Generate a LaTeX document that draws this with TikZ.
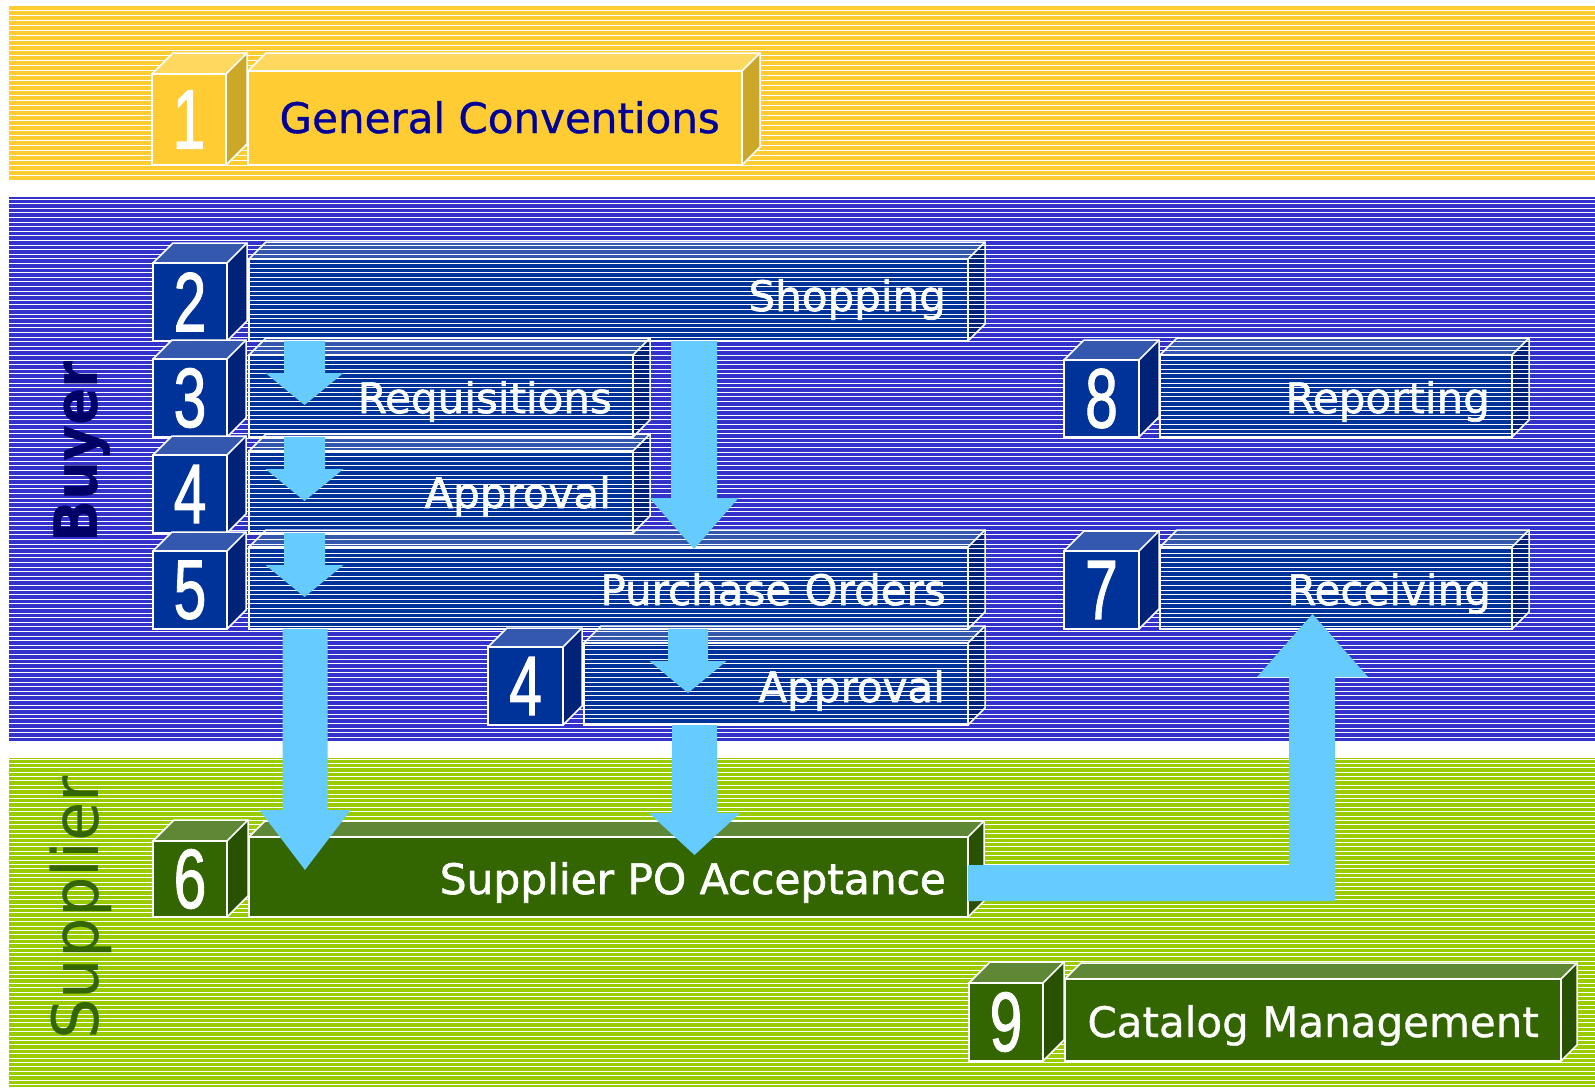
\documentclass[tikz,border=0pt]{standalone}
\usepackage{fontspec}
\setmainfont{DejaVu Sans}
\newfontfamily\digitfont[FakeBold=1.5]{Liberation Sans}
\newfontfamily\lblfont[FakeBold=1.5]{DejaVu Sans}
\newfontfamily\lblfontb[FakeBold=0.8]{DejaVu Sans}
\usepackage{graphicx}
\definecolor{ybg}{HTML}{FFCC33}
\definecolor{yfront}{HTML}{FFCC33}
\definecolor{ytop}{HTML}{FFD95E}
\definecolor{yside}{HTML}{CCA829}
\definecolor{navy}{HTML}{000099}
\definecolor{bbg}{HTML}{3333CC}
\definecolor{bfront}{HTML}{003399}
\definecolor{btop}{HTML}{3358AD}
\definecolor{bside}{HTML}{002277}
\definecolor{buyercol}{HTML}{000066}
\definecolor{gbg}{HTML}{99CC00}
\definecolor{gfront}{HTML}{336600}
\definecolor{gtop}{HTML}{5E8736}
\definecolor{gside}{HTML}{295200}
\definecolor{arr}{HTML}{66CCFF}
% faces: x1 y1 x2 y2 d front top side
\newcommand\stripfaces[8]{%
  \fill[#7] (#1,#2) -- (#1+#5,#2-#5) -- (#3+#5,#2-#5) -- (#3,#2) -- cycle;
  \fill[#8] (#3,#2) -- (#3+#5,#2-#5) -- (#3+#5,#4-#5) -- (#3,#4) -- cycle;
  \fill[#6] (#1,#2) rectangle (#3,#4);}
% edges + named front: name x1 y1 x2 y2 d
\newcommand\openfront[6]{%
  \draw[edge] (#2,#3) -- (#2+#6,#3-#6) -- (#4+#6,#3-#6) -- (#4+#6,#5-#6) -- (#4,#5);
  \draw[edge] (#4,#3) -- (#4+#6,#3-#6);
  \node[edge,inner sep=0,outer sep=0,minimum width={#4-#2},minimum height={#5-#3},anchor=north west] (#1) at (#2,#3) {};}
\newcommand\solidbox[9]{%
  \stripfaces{#2}{#3}{#4}{#5}{#6}{#7}{#8}{#9}%
  \openfront{#1}{#2}{#3}{#4}{#5}{#6}}
% down block arrow: cx, start anchor, head base y, tip y, half shaft, half head
\newcommand\dnarrow[6]{%
  \fill[arr] (#1-#5,0 |- #2) -- (#1-#5,#3) -- (#1-#6,#3) -- (#1,#4) -- (#1+#6,#3) -- (#1+#5,#3) -- (#1+#5,0 |- #2) -- cycle;}
% pixel-aligned stripes: first row, period, count
\newcommand\stripes[3]{%
  \foreach \k in {0,...,#3} {%
    \pgfmathsetmacro\yy{#1+floor(\k*#2)+0.5}%
    \draw[stripe] (9,\yy) -- (1595,\yy);}}
\begin{document}
\begin{tikzpicture}[x=1pt,y=-1pt,
  edge/.style={draw=white,line width=1.5,line join=miter},
  lbl/.style={text=white,inner sep=0,font=\lblfont\fontsize{42}{42}\selectfont},
  num/.style={text=white,inner sep=0,font=\digitfont\fontsize{84}{84}\selectfont},
  stripe/.style={white,line width=1}]
\useasboundingbox (0,0) rectangle (1595,1087);
\fill[white] (0,0) rectangle (1595,1087);
% bands
\fill[ybg] (9,5) rectangle (1595,180);
\fill[bbg] (9,197) rectangle (1595,741);
\fill[gbg] (9,758) rectangle (1595,1087);
% translucent blue long boxes (faces)
\stripfaces{249}{259}{968}{341}{17}{bfront}{btop}{bside}
\stripfaces{249}{355}{633}{437}{17}{bfront}{btop}{bside}
\stripfaces{249}{451}{633}{533}{17}{bfront}{btop}{bside}
\stripfaces{249}{547}{968}{629}{17}{bfront}{btop}{bside}
\stripfaces{584}{643}{968}{725}{17}{bfront}{btop}{bside}
\stripfaces{1160}{355}{1512}{437}{17}{bfront}{btop}{bside}
\stripfaces{1160}{547}{1512}{629}{17}{bfront}{btop}{bside}
% stripes
\stripes{5}{5}{34}
\stripes{199}{4.6}{117}
\stripes{759}{4.4}{74}
% blue long box outlines
\openfront{sh}{249}{259}{968}{341}{17}
\openfront{rq}{249}{355}{633}{437}{17}
\openfront{ap}{249}{451}{633}{533}{17}
\openfront{po}{249}{547}{968}{629}{17}
\openfront{ap2}{584}{643}{968}{725}{17}
\openfront{rp}{1160}{355}{1512}{437}{17}
\openfront{rc}{1160}{547}{1512}{629}{17}
% solid boxes
\solidbox{c1}{152}{74}{226}{165}{21}{yfront}{ytop}{yside}
\solidbox{gc}{248}{71}{742}{165}{18}{yfront}{ytop}{yside}
\solidbox{c2}{153}{263}{227}{341}{20}{bfront}{btop}{bside}
\solidbox{c3}{153}{359}{227}{437}{19}{bfront}{btop}{bside}
\solidbox{c4}{153}{455}{227}{533}{19}{bfront}{btop}{bside}
\solidbox{c5}{153}{551}{227}{629}{19}{bfront}{btop}{bside}
\solidbox{c4b}{488}{647}{563}{725}{19}{bfront}{btop}{bside}
\solidbox{c8}{1064}{360}{1139}{437}{20}{bfront}{btop}{bside}
\solidbox{c7}{1064}{551}{1139}{629}{20}{bfront}{btop}{bside}
\solidbox{c6}{153}{841}{227}{917}{21}{gfront}{gtop}{gside}
\solidbox{sp}{249}{837}{968}{917}{16}{gfront}{gtop}{gside}
\solidbox{c9}{969}{983}{1043}{1061}{21}{gfront}{gtop}{gside}
\solidbox{cm}{1065}{979}{1561}{1061}{16}{gfront}{gtop}{gside}
% arrows
\dnarrow{304.5}{sh.south}{373}{405}{20.5}{39}
\dnarrow{304.5}{rq.south}{469}{501}{20.5}{39}
\dnarrow{304.5}{ap.south}{565}{597}{20.5}{39}
\dnarrow{694}{sh.south}{498}{549}{23}{44.5}
\dnarrow{688}{po.south}{661}{693}{20}{38.5}
\dnarrow{694.5}{ap2.south}{813}{855}{22.5}{45.5}
\dnarrow{305}{po.south}{810}{870}{22.5}{45.5}
\fill[arr] (sp.east |- 0,865) -- (1289,865) -- (1289,677) -- (1257,677) -- (1312.5,614) -- (1368,677) -- (1335,677) -- (1335,901) -- (sp.east |- 0,901) -- cycle;
% digits
\node[num] (n1) at (c1.center) {\scalebox{0.7}[1]{1}};
\node[num] (n2) at (c2.center) {\scalebox{0.7}[1]{2}};
\node[num] (n3) at (c3.center) {\scalebox{0.7}[1]{3}};
\node[num] (n4) at (c4.center) {\scalebox{0.7}[1]{4}};
\node[num] (n5) at (c5.center) {\scalebox{0.7}[1]{5}};
\node[num] (n4b) at (c4b.center) {\scalebox{0.7}[1]{4}};
\node[num] (n8) at (c8.center) {\scalebox{0.7}[1]{8}};
\node[num] (n7) at (c7.center) {\scalebox{0.7}[1]{7}};
\node[num] (n6) at (c6.center) {\scalebox{0.7}[1]{6}};
\node[num] (n9) at (c9.center) {\scalebox{0.7}[1]{9}};
% labels
\node[lbl,text=navy,anchor=base east,font=\lblfontb\fontsize{42}{42}\selectfont] (t1) at (720,133) {General Conventions};
\node[lbl,anchor=base east] (t2) at (946,311) {Shopping};
\node[lbl,anchor=base east] (t3) at (612,413) {Requisitions};
\node[lbl,anchor=base east] (t4) at (611,508) {Approval};
\node[lbl,anchor=base east] (t5) at (946,605) {Purchase Orders};
\node[lbl,anchor=base east] (t4c) at (945,702) {Approval};
\node[lbl,anchor=base east] (t8) at (1490,413) {Reporting};
\node[lbl,anchor=base east] (t7) at (1491,605) {Receiving};
\node[lbl,anchor=base east] (t6) at (946,894) {\resizebox{506pt}{\height}{Supplier PO Acceptance}};
\node[lbl,anchor=base east,font=\lblfontb\fontsize{42}{42}\selectfont] (t9) at (1539,1037) {Catalog Management};
% band labels
\node[rotate=90,anchor=base west,inner sep=0,text=buyercol,font=\bfseries\fontsize{60}{60}\selectfont] (buyerlbl) at (97,543) {\resizebox{182pt}{\height}{Buyer}};
\node[rotate=90,anchor=base west,inner sep=0,text=gfront,font=\fontsize{64}{64}\selectfont] (supplbl) at (98,1040) {Supplier};
\end{tikzpicture}
\end{document}
